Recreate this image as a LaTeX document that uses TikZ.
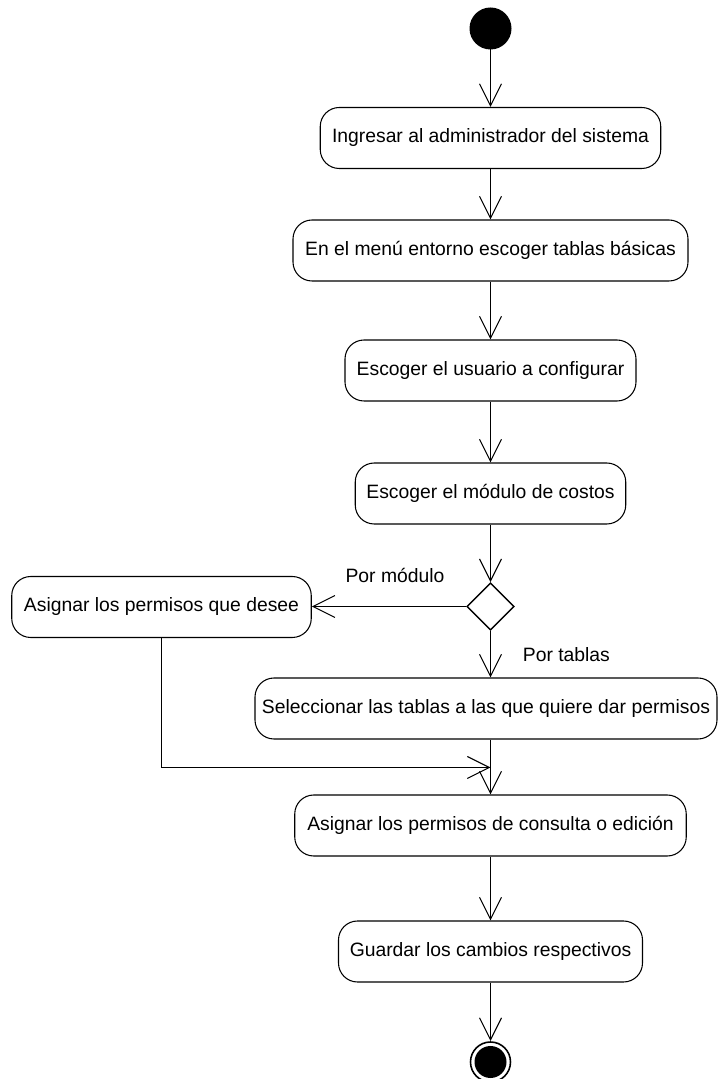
\documentclass[tikz,border=0pt]{standalone}
\usepackage{fontspec}
\setmainfont{Liberation Sans}
\usetikzlibrary{arrows.meta,shapes.geometric}

\begin{document}
\begin{tikzpicture}[
  font=\fontsize{11}{13}\selectfont,
  every path/.style={line width=0.6pt},
  activity/.style={draw, rounded corners=0.38cm, minimum height=1.22cm, inner sep=0pt},
  flow/.style={-{Straight Barb[length=12.5pt,width=12.5pt]}},
  decision/.style={draw, diamond, minimum width=0.95cm, minimum height=0.95cm, inner sep=0pt, line width=0.8pt}
]
\useasboundingbox (0,0) rectangle (14.36,21.58);
% initial and final states
\fill (9.81,21.01) circle (0.42);
\coordinate (start) at (9.81,20.59);
\draw[line width=0.9pt] (9.81,0.34) circle (0.40);
\fill (9.81,0.34) circle (0.32);
\coordinate (stop) at (9.81,0.76);
% activities
\node[activity, minimum width=6.81cm] (ingresar) at (9.81,18.82) {Ingresar al administrador del sistema};
\node[activity, minimum width=7.90cm] (menu) at (9.81,16.57) {En el menú entorno escoger tablas básicas};
\node[activity, minimum width=5.82cm] (usuario) at (9.81,14.17) {Escoger el usuario a configurar};
\node[activity, minimum width=5.41cm] (modulo) at (9.81,11.71) {Escoger el módulo de costos};
\node[decision] (dec) at (9.81,9.45) {};
\node[activity, minimum width=5.99cm] (asignar) at (3.23,9.44) {Asignar los permisos que desee};
\node[activity, minimum width=9.24cm] (tablas) at (9.72,7.41) {Seleccionar las tablas a las que quiere dar permisos};
\coordinate (merge) at (9.81,6.23);
\node[activity, minimum width=7.83cm] (consulta) at (9.81,5.07) {Asignar los permisos de consulta o edición};
\node[activity, minimum width=6.08cm] (guardar) at (9.81,2.55) {Guardar los cambios respectivos};
% guards
\node[] at (7.90,10.08) {Por módulo};
\node[anchor=west] at (10.33,8.48) {Por tablas};
% transitions
\draw[flow] (start) -- (start |- ingresar.north);
\draw[flow] (ingresar.south) -- (ingresar.south |- menu.north);
\draw[flow] (menu.south) -- (menu.south |- usuario.north);
\draw[flow] (usuario.south) -- (usuario.south |- modulo.north);
\draw[flow] (modulo.south) -- (modulo.south |- dec.north);
\draw[flow] (dec.west) -- (asignar.east |- dec.west);
\draw[flow] (dec.south) -- (dec.south |- tablas.north);
\draw[flow] (asignar.south) |- (merge);
\draw[flow] (merge |- tablas.south) -- (merge |- consulta.north);
\draw[flow] (consulta.south) -- (consulta.south |- guardar.north);
\draw[flow] (guardar.south) -- (guardar.south |- stop);
\end{tikzpicture}
\end{document}
